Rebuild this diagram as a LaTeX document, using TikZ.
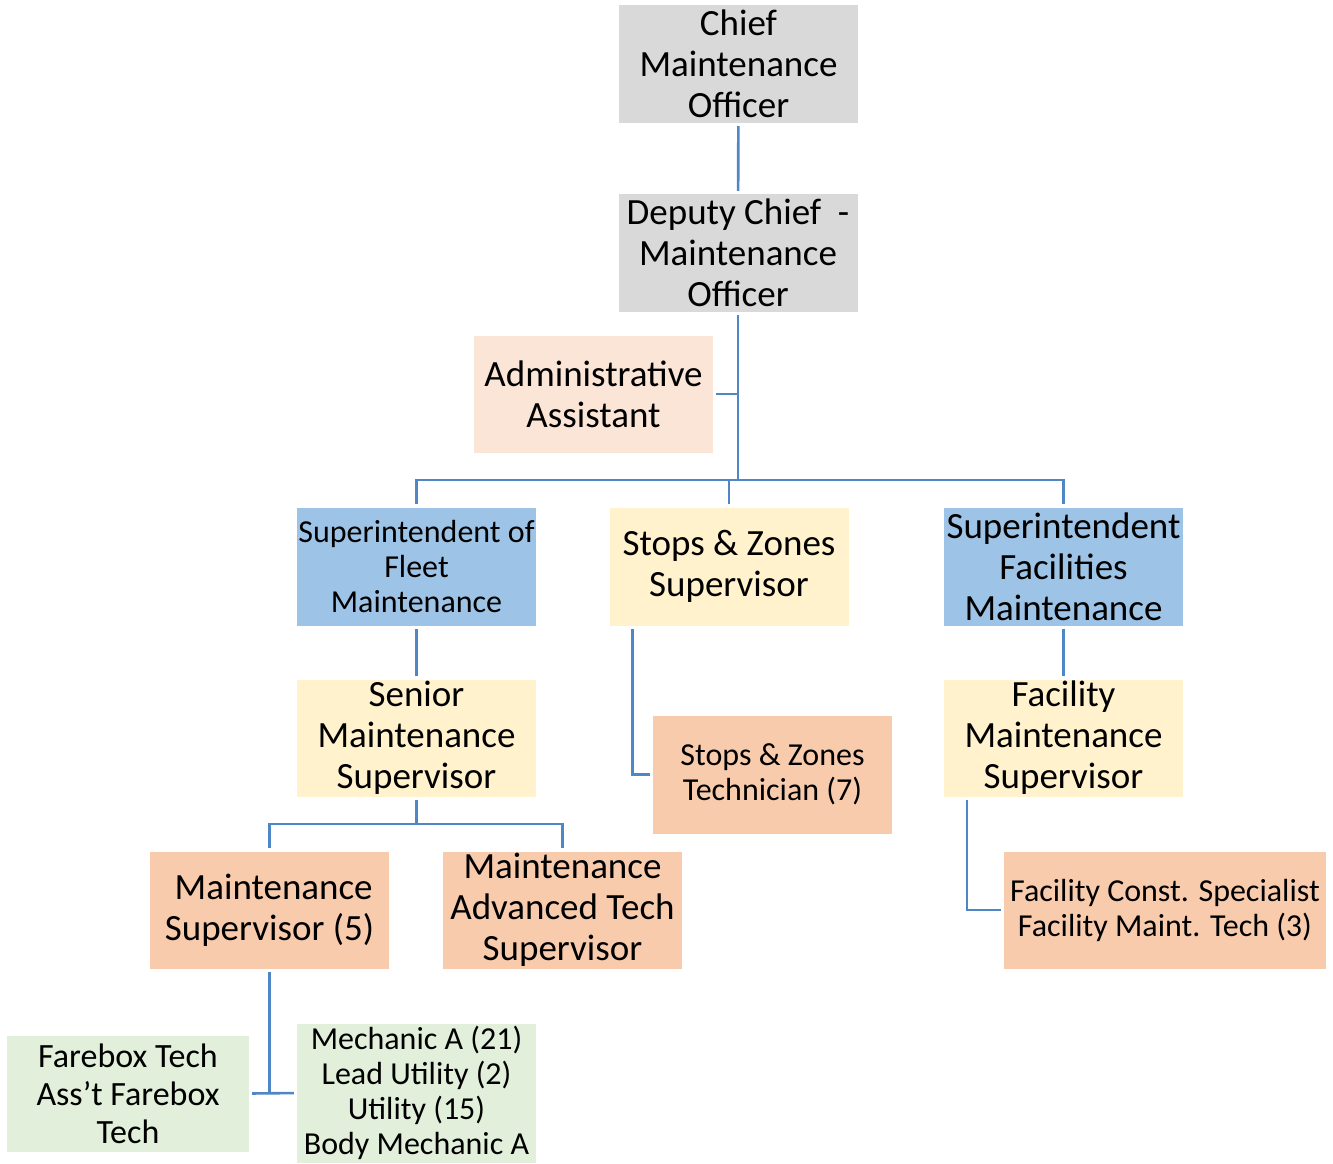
\documentclass[tikz,border=0pt]{standalone}
\usepackage{fontspec}
\setmainfont{Carlito}
\usetikzlibrary{calc}

\definecolor{boxgray}{HTML}{D9D9D9}
\definecolor{boxpeachlight}{HTML}{FBE5D6}
\definecolor{boxpeach}{HTML}{F8CBAD}
\definecolor{boxblue}{HTML}{9DC3E6}
\definecolor{boxyellow}{HTML}{FFF2CC}
\definecolor{boxgreen}{HTML}{E2EFDA}
\definecolor{linkblue}{HTML}{4F86C6}

\tikzset{
  box/.style={rectangle, inner sep=0pt, align=center, fill=#1,
              minimum width=239pt, minimum height=118pt},
  bigtext/.style={font=\fontsize{37}{41}\selectfont},
  smalltext/.style={font=\fontsize{32}{35}\selectfont},
  midtext/.style={font=\fontsize{34}{38}\selectfont},
  link/.style={draw=linkblue, line width=2.6pt},
}

\begin{document}
\begin{tikzpicture}[x=1pt,y=-1pt]
\useasboundingbox (0,0) rectangle (1333,1163);

% boxes
\node[box=boxgray, bigtext] (chief) at (738.5,64) {Chief\\Maintenance\\Officer};
\node[box=boxgray, bigtext] (deputy) at (738,253) {Deputy Chief\ \ -\\Maintenance\\Officer};
\node[box=boxpeachlight, bigtext, minimum height=117pt] (admin) at (593.5,394) {Administrative\\Assistant};

\node[box=boxblue, smalltext] (fleet) at (416.5,566.5) {Superintendent of\\Fleet\\Maintenance};
\node[box=boxyellow, bigtext] (stops) at (729,566.5) {Stops \& Zones\\Supervisor};
\node[box=boxblue, bigtext] (facil) at (1063.5,566.5) {Superintendent\\Facilities\\Maintenance};

\node[box=boxyellow, bigtext, minimum height=117pt] (senior) at (416.5,738) {Senior\\Maintenance\\Supervisor};
\node[box=boxpeach, smalltext] (tech) at (772.5,774.5) {Stops \& Zones\\Technician (7)};
\node[box=boxyellow, bigtext, minimum height=117pt] (fmsup) at (1063.5,738) {Facility\\Maintenance\\Supervisor};

\node[box=boxpeach, bigtext, minimum height=117pt] (msup) at (269.5,910) {\ Maintenance\\Supervisor (5)};
\node[box=boxpeach, bigtext, minimum height=117pt] (adv) at (562.5,910) {Maintenance\\Advanced Tech\\Supervisor};
\node[box=boxpeach, smalltext, minimum width=322pt, minimum height=117pt] (const) at (1165,910) {Facility Const. Specialist\\Facility Maint. Tech (3)};

\node[box=boxgreen, midtext, minimum width=242pt, minimum height=116pt] (farebox) at (128,1093.5) {Farebox Tech\\Ass’t Farebox\\Tech};
\node[box=boxgreen, smalltext, minimum height=139pt] (mech) at (416.5,1093) {Mechanic A (21)\\Lead Utility (2)\\Utility (15)\\Body Mechanic A};

% junction points of the buses
\coordinate (bus1) at (738,480);
\coordinate (bus2) at (416.5,824);
\coordinate (bus3) at (269.5,1094);

% connectors
\draw[link, shorten <=3pt, shorten >=3pt] (chief) -- (deputy);
\draw[link, shorten <=3pt] (deputy.south) -- (bus1);
\draw[link, shorten <=3pt] (admin.east) -- (admin.east -| bus1);
\draw[link, shorten <=3pt, shorten >=3pt] (fleet.north) |- (bus1) -| (facil.north);
\draw[link, shorten >=3pt] (stops.north |- bus1) -- (stops.north);

\draw[link, shorten <=3pt, shorten >=3pt] (fleet) -- (senior);
\draw[link, shorten <=3pt, shorten >=3pt] (facil) -- (fmsup);
\draw[link, shorten <=3pt, shorten >=3pt] ([xshift=23pt]stops.south west) |- (tech.west);
\draw[link, shorten <=3pt, shorten >=3pt] ([xshift=23pt]fmsup.south west) |- (const.west);

\draw[link, shorten <=3pt] (senior.south) -- (bus2);
\draw[link, shorten <=3pt, shorten >=3pt] (msup.north) |- (bus2) -| (adv.north);

\draw[link, shorten <=3pt] (msup.south) -- (bus3);
\draw[link, shorten <=3pt, shorten >=3pt] (farebox.east) -- (mech.west);
\end{tikzpicture}
\end{document}
